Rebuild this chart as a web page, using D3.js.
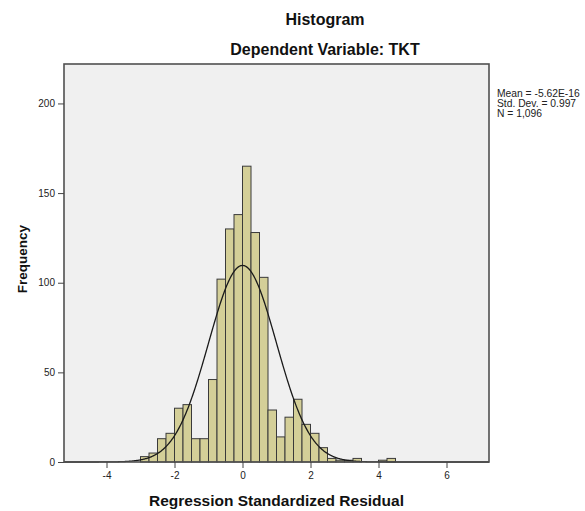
<!DOCTYPE html>
<html>
<head>
<meta charset="utf-8">
<script src="https://cdn.jsdelivr.net/npm/d3@7"></script>
<style>
  html, body { margin: 0; padding: 0; background: #ffffff; }
  svg { display: block; }
  text { font-family: Arial, "Liberation Sans", sans-serif; }
</style>
</head>
<body>
<svg id="chart" width="585" height="511"></svg>
<script>
// Histogram bins of the regression standardized residuals (lower edge, width 0.25)
const binLower = [-3.0, -2.75, -2.5, -2.25, -2.0, -1.75, -1.5, -1.25, -1.0, -0.75,
                  -0.5, -0.25, 0.0, 0.25, 0.5, 0.75, 1.0, 1.25, 1.5, 1.75,
                  2.0, 2.25, 2.5, 2.75, 3.0, 3.25, 4.0, 4.25];
const binCount = [3, 5, 13, 16, 30, 32, 13, 13, 46, 102,
                  130, 138, 165, 128, 103, 29, 14, 25, 35, 21,
                  16, 8, 2, 1, 1, 2, 1, 2];
const binWidth = 0.25;

// Summary statistics shown in the legend and used for the normal curve
const statMean = -5.62e-16;
const statSD = 0.997;
const statN = 1096;
const legendLines = ["Mean = -5.62E-16", "Std. Dev. = 0.997", "N = 1,096"];

const xTicks = [-4, -2, 0, 2, 4, 6];
const yTicks = [0, 50, 100, 150, 200];

const titleText = "Histogram";
const subtitleText = "Dependent Variable: TKT";
const xTitle = "Regression Standardized Residual";
const yTitle = "Frequency";

const svg = d3.select("#chart");
const plot = { left: 64, right: 489, top: 64, bottom: 462 };

const x = d3.scaleLinear().domain([-5.25, 7.25]).range([plot.left, plot.right]);
const y = d3.scaleLinear().domain([0, 222]).range([plot.bottom, plot.top]);

// plot background
svg.append("rect")
  .attr("x", plot.left).attr("y", plot.top)
  .attr("width", plot.right - plot.left).attr("height", plot.bottom - plot.top)
  .attr("fill", "#f0f0f0");

// bars
svg.append("g").selectAll("rect")
  .data(binLower.map((b, i) => ({ lo: b, n: binCount[i] })))
  .join("rect")
  .attr("x", d => x(d.lo))
  .attr("width", d => x(d.lo + binWidth) - x(d.lo))
  .attr("y", d => y(d.n))
  .attr("height", d => y(0) - y(d.n))
  .attr("fill", "#d4cf98")
  .attr("stroke", "#3a3a3a")
  .attr("stroke-width", 1);

// normal curve scaled to counts
const curvePts = d3.range(-5.25, 7.2501, 0.02).map(v => [v,
  statN * binWidth / (statSD * Math.sqrt(2 * Math.PI)) *
  Math.exp(-0.5 * Math.pow((v - statMean) / statSD, 2))]);
svg.append("path")
  .datum(curvePts)
  .attr("fill", "none")
  .attr("stroke", "#1a1a1a")
  .attr("stroke-width", 1.3)
  .attr("d", d3.line().x(d => x(d[0])).y(d => y(d[1])));

// frame
svg.append("rect")
  .attr("x", plot.left).attr("y", plot.top)
  .attr("width", plot.right - plot.left).attr("height", plot.bottom - plot.top)
  .attr("fill", "none")
  .attr("stroke", "#505050")
  .attr("stroke-width", 1.6);

// axes
const xAxis = svg.append("g")
  .attr("transform", `translate(0,${plot.bottom})`)
  .call(d3.axisBottom(x).tickValues(xTicks).tickSize(6).tickPadding(4).tickFormat(d3.format("d")));
const yAxis = svg.append("g")
  .attr("transform", `translate(${plot.left},0)`)
  .call(d3.axisLeft(y).tickValues(yTicks).tickSize(6).tickPadding(3).tickFormat(d3.format("d")));
[xAxis, yAxis].forEach(g => {
  g.select(".domain").remove();
  g.selectAll(".tick line").attr("stroke", "#444444").attr("stroke-width", 1);
  g.selectAll(".tick text")
    .attr("fill", "#222222")
    .style("font-family", "Arial, 'Liberation Sans', sans-serif")
    .style("font-size", "10px");
});
xAxis.selectAll(".tick text").text(d => d < 0 ? "-" + Math.abs(d) : String(d));

// titles
svg.append("text").attr("x", 325).attr("y", 25).attr("text-anchor", "middle")
  .style("font-size", "16px").style("font-weight", "bold").attr("fill", "#111")
  .text(titleText);
svg.append("text").attr("x", 325).attr("y", 55).attr("text-anchor", "middle")
  .style("font-size", "16px").style("font-weight", "bold").attr("fill", "#111")
  .text(subtitleText);
svg.append("text").attr("x", (plot.left + plot.right) / 2).attr("y", 506).attr("text-anchor", "middle")
  .style("font-size", "15.5px").style("font-weight", "bold").attr("fill", "#111")
  .text(xTitle);
svg.append("text").attr("transform", "translate(27,259) rotate(-90)").attr("text-anchor", "middle")
  .style("font-size", "13.5px").style("font-weight", "bold").attr("fill", "#111")
  .text(yTitle);

// legend
svg.append("g").selectAll("text")
  .data(legendLines)
  .join("text")
  .attr("x", 497)
  .attr("y", (d, i) => 97 + i * 10)
  .style("font-size", "10.3px")
  .attr("fill", "#222")
  .text(d => d);
</script>
</body>
</html>
